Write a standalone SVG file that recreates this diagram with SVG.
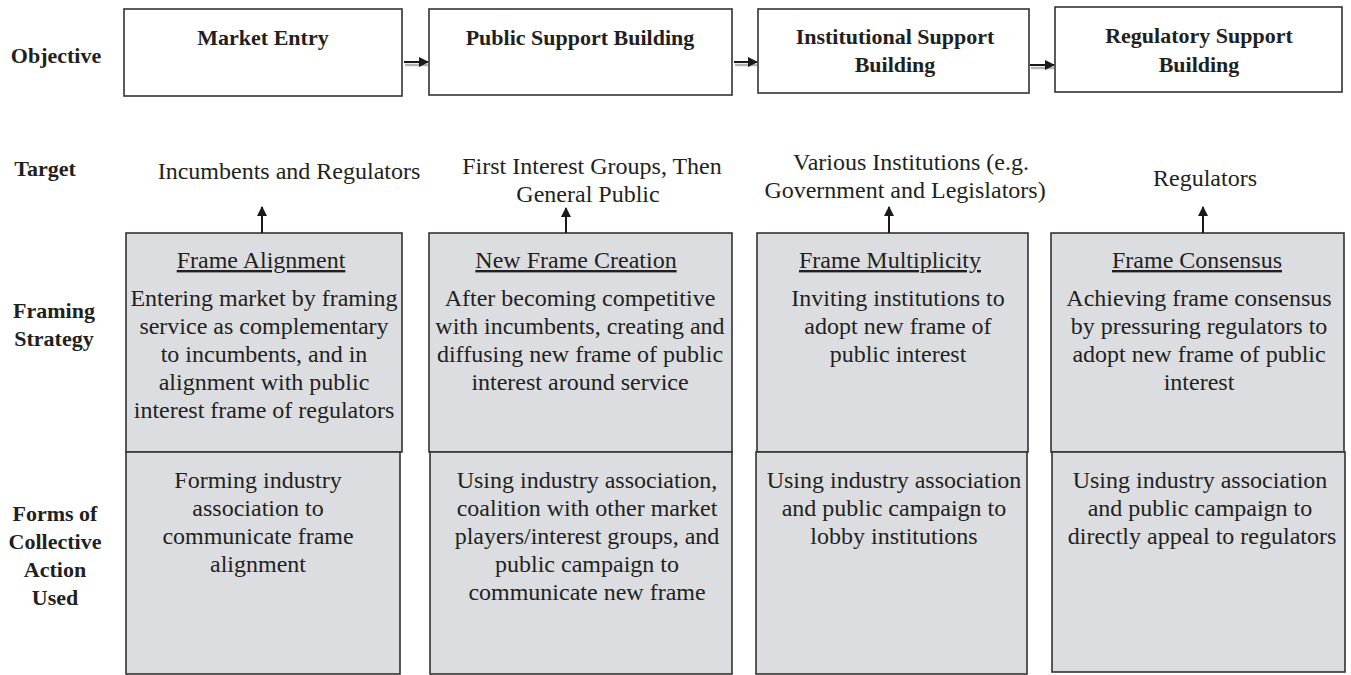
<svg xmlns="http://www.w3.org/2000/svg" width="1351" height="675" viewBox="0 0 1351 675">
  <style>
    text { font-family: "Liberation Serif", "DejaVu Serif", serif; font-weight: normal; fill: #231f20; }
    .lbl { font-size: 22px; font-weight: bold; text-anchor: middle; }
    .obj { font-size: 22px; font-weight: bold; text-anchor: middle; }
    .body { font-size: 24px; text-anchor: middle; }
    .head { font-size: 24px; text-anchor: middle; text-decoration: underline; }
    .objbox { fill: #ffffff; stroke: #333333; stroke-width: 1.6; }
    .gbox { fill: #dcdde0; stroke: #333333; stroke-width: 1.6; }
    .conn { stroke: #1a1a1a; stroke-width: 2; fill: none; }
    .shadow { stroke: #b4b4b4; stroke-width: 2.5; fill: none; }
  </style>
  <defs>
    <marker id="arrow" viewBox="0 0 10 10" refX="9" refY="5" markerWidth="5" markerHeight="5" orient="auto" markerUnits="strokeWidth">
      <path d="M0,0 L10,5 L0,10 Z" fill="#1a1a1a"/>
    </marker>
  </defs>

  <rect width="1351" height="675" fill="#ffffff"/>

  <!-- row labels -->
  <g id="row-labels">
    <text class="lbl" x="56" y="63">Objective</text>
    <text class="lbl" x="45" y="176">Target</text>
    <text class="lbl" x="54" y="318">Framing</text>
    <text class="lbl" x="54" y="346">Strategy</text>
    <text class="lbl" x="55" y="521">Forms of</text>
    <text class="lbl" x="55" y="549">Collective</text>
    <text class="lbl" x="55" y="577">Action</text>
    <text class="lbl" x="55" y="605">Used</text>
  </g>

  <!-- objectives -->
  <g id="obj-market-entry">
    <rect class="objbox" x="124" y="9" width="278" height="87"/>
    <text class="obj" x="263" y="45">Market Entry</text>
  </g>
  <g id="obj-public-support">
    <rect class="objbox" x="429" y="9" width="303" height="86"/>
    <text class="obj" x="580" y="45">Public Support Building</text>
  </g>
  <g id="obj-institutional-support">
    <rect class="objbox" x="758" y="9" width="271" height="84"/>
    <text class="obj" x="895" y="44">Institutional Support</text>
    <text class="obj" x="895" y="72">Building</text>
  </g>
  <g id="obj-regulatory-support">
    <rect class="objbox" x="1055" y="7" width="287" height="85"/>
    <text class="obj" x="1199" y="43">Regulatory Support</text>
    <text class="obj" x="1199" y="72">Building</text>
  </g>

  <!-- targets -->
  <g id="target-1">
    <text class="body" x="289" y="179">Incumbents and Regulators</text>
  </g>
  <g id="target-2">
    <text class="body" x="592" y="174">First Interest Groups, Then</text>
    <text class="body" x="588" y="202">General Public</text>
  </g>
  <g id="target-3">
    <text class="body" x="911" y="170">Various Institutions (e.g.</text>
    <text class="body" x="905" y="198">Government and Legislators)</text>
  </g>
  <g id="target-4">
    <text class="body" x="1205" y="186">Regulators</text>
  </g>

  <!-- framing strategies -->
  <g id="frame-alignment">
    <rect class="gbox" x="126" y="233" width="276" height="219"/>
    <text class="head" x="261" y="268">Frame Alignment</text>
    <text class="body" x="264" y="306">Entering market by framing</text>
    <text class="body" x="264" y="334">service as complementary</text>
    <text class="body" x="264" y="362">to incumbents, and in</text>
    <text class="body" x="264" y="390">alignment with public</text>
    <text class="body" x="264" y="418">interest frame of regulators</text>
  </g>
  <g id="new-frame-creation">
    <rect class="gbox" x="429" y="233" width="303" height="219"/>
    <text class="head" x="576" y="268">New Frame Creation</text>
    <text class="body" x="580" y="306">After becoming competitive</text>
    <text class="body" x="580" y="334">with incumbents, creating and</text>
    <text class="body" x="580" y="362">diffusing new frame of public</text>
    <text class="body" x="580" y="390">interest around service</text>
  </g>
  <g id="frame-multiplicity">
    <rect class="gbox" x="757" y="233" width="271" height="219"/>
    <text class="head" x="890" y="268">Frame Multiplicity</text>
    <text class="body" x="898" y="306">Inviting institutions to</text>
    <text class="body" x="898" y="334">adopt new frame of</text>
    <text class="body" x="898" y="362">public interest</text>
  </g>
  <g id="frame-consensus">
    <rect class="gbox" x="1051" y="233" width="293" height="219"/>
    <text class="head" x="1197" y="268">Frame Consensus</text>
    <text class="body" x="1199" y="306">Achieving frame consensus</text>
    <text class="body" x="1199" y="334">by pressuring regulators to</text>
    <text class="body" x="1199" y="362">adopt new frame of public</text>
    <text class="body" x="1199" y="390">interest</text>
  </g>

  <!-- forms of collective action -->
  <g id="action-1">
    <rect class="gbox" x="126" y="452" width="274" height="222"/>
    <text class="body" x="258" y="488">Forming industry</text>
    <text class="body" x="258" y="516">association to</text>
    <text class="body" x="258" y="544">communicate frame</text>
    <text class="body" x="258" y="572">alignment</text>
  </g>
  <g id="action-2">
    <rect class="gbox" x="430" y="452" width="302" height="222"/>
    <text class="body" x="587" y="488">Using industry association,</text>
    <text class="body" x="587" y="516">coalition with other market</text>
    <text class="body" x="587" y="544">players/interest groups, and</text>
    <text class="body" x="587" y="572">public campaign to</text>
    <text class="body" x="587" y="600">communicate new frame</text>
  </g>
  <g id="action-3">
    <rect class="gbox" x="756" y="452" width="271" height="222"/>
    <text class="body" x="894" y="488">Using industry association</text>
    <text class="body" x="894" y="516">and public campaign to</text>
    <text class="body" x="894" y="544">lobby institutions</text>
  </g>
  <g id="action-4">
    <rect class="gbox" x="1052" y="452" width="293" height="220"/>
    <text class="body" x="1200" y="488">Using industry association</text>
    <text class="body" x="1200" y="516">and public campaign to</text>
    <text class="body" x="1202" y="544">directly appeal to regulators</text>
  </g>

  <!-- connectors -->
  <g id="connectors">
    <line class="shadow" x1="405" y1="65" x2="428" y2="65"/>
    <line class="shadow" x1="735" y1="65" x2="757" y2="65"/>
    <line class="shadow" x1="1031" y1="68" x2="1054" y2="68"/>
    <line class="conn" x1="404" y1="62" x2="428" y2="62" marker-end="url(#arrow)"/>
    <line class="conn" x1="734" y1="62" x2="757" y2="62" marker-end="url(#arrow)"/>
    <line class="conn" x1="1030" y1="65" x2="1054" y2="65" marker-end="url(#arrow)"/>
    <line class="conn" x1="262" y1="233" x2="262" y2="207" marker-end="url(#arrow)"/>
    <line class="conn" x1="566" y1="233" x2="566" y2="208" marker-end="url(#arrow)"/>
    <line class="conn" x1="889" y1="233" x2="889" y2="207" marker-end="url(#arrow)"/>
    <line class="conn" x1="1203" y1="233" x2="1203" y2="207" marker-end="url(#arrow)"/>
  </g>
</svg>
